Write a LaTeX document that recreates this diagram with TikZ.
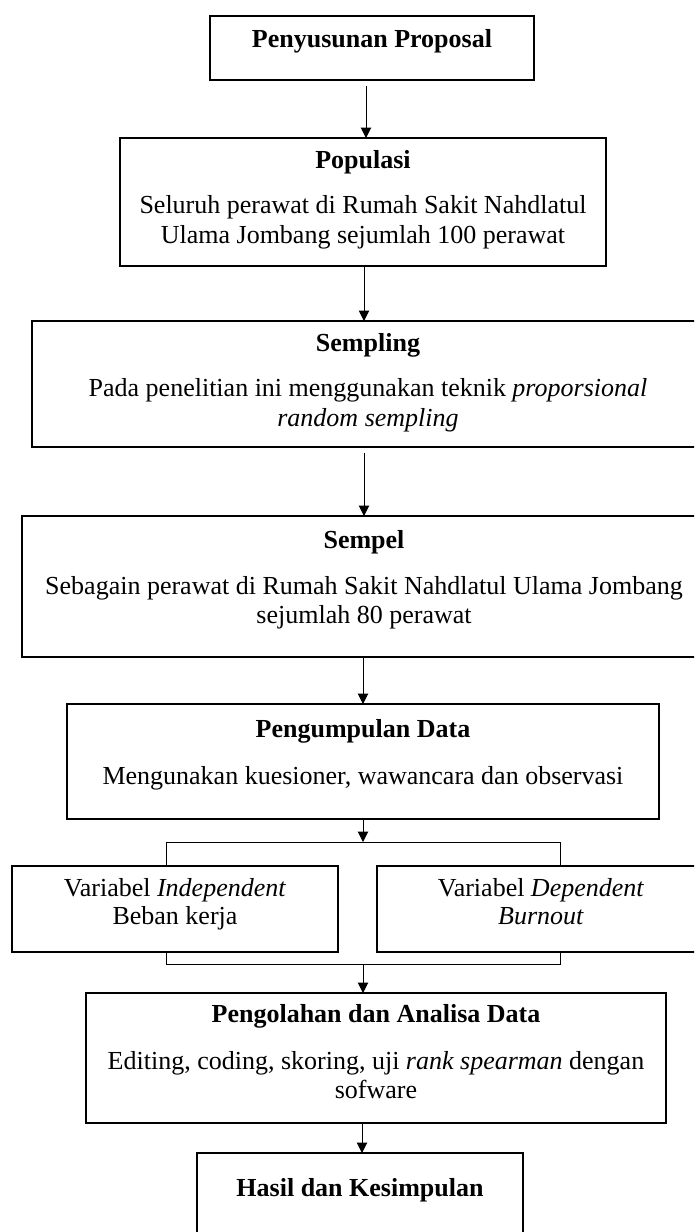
\documentclass[tikz,border=0pt]{standalone}
\usepackage{fontspec}
\setmainfont{Liberation Serif}
\usetikzlibrary{arrows.meta}
\tikzset{
 box/.style={draw=black, line width=1.6pt, inner sep=0pt, outer sep=0pt},
 txt/.style={anchor=base, inner sep=0pt, outer sep=0pt, font=\fontsize{26}{30}\selectfont},
 conn/.style={draw=black, line width=1pt},
 arr/.style={conn, -{Triangle[length=10.5pt,width=10.5pt]}},
}
\begin{document}
\begin{tikzpicture}[x=1pt,y=-1pt]
\clip (0,0) rectangle (694,1232);
\fill[white] (0,0) rectangle (694,1232);
% boxes
\node[box, minimum width=324pt, minimum height=64pt] (b1) at (372,48) {};
\node[box, minimum width=486pt, minimum height=128pt] (b2) at (363,202) {};
\node[box, minimum width=672pt, minimum height=126pt] (b3) at (368,384) {};
\node[box, minimum width=684pt, minimum height=141pt] (b4) at (364,586.5) {};
\node[box, minimum width=592pt, minimum height=115pt] (b5) at (363,761.5) {};
\node[box, minimum width=326pt, minimum height=86pt] (b6a) at (175,909) {};
\node[box, minimum width=328pt, minimum height=86pt] (b6b) at (541,909) {};
\node[box, minimum width=580pt, minimum height=130pt] (b7) at (376,1058) {};
\node[box, minimum width=326pt, minimum height=100pt] (b8) at (360,1203) {};
% texts
\node[txt] (t1) at (372,47) {\textbf{Penyusunan Proposal}};
\node[txt] (t2a) at (363,168) {\textbf{Populasi}};
\node[txt] (t2b) at (363,213) {Seluruh perawat di Rumah Sakit Nahdlatul};
\node[txt] (t2c) at (363,243) {Ulama Jombang sejumlah 100 perawat};
\node[txt] (t3a) at (368,351) {\textbf{Sempling}};
\node[txt] (t3b) at (368,396) {Pada penelitian ini menggunakan teknik \textit{proporsional}};
\node[txt] (t3c) at (368,426) {\textit{random sempling}};
\node[txt] (t4a) at (364,548) {\textbf{Sempel}};
\node[txt] (t4b) at (364,594) {Sebagain perawat di Rumah Sakit Nahdlatul Ulama Jombang};
\node[txt] (t4c) at (364,623) {sejumlah 80 perawat};
\node[txt] (t5a) at (363,737) {\textbf{Pengumpulan Data}};
\node[txt] (t5b) at (363,784) {Mengunakan kuesioner, wawancara dan observasi};
\node[txt] (t6a) at (175,896) {Variabel \textit{Independent}};
\node[txt] (t6b) at (175,924) {Beban kerja};
\node[txt] (t6c) at (541,896) {Variabel \textit{Dependent}};
\node[txt] (t6d) at (541,924) {\textit{Burnout}};
\node[txt] (t7a) at (376,1022) {\textbf{Pengolahan dan Analisa Data}};
\node[txt] (t7b) at (376,1069) {Editing, coding, skoring, uji \textit{rank spearman} dengan};
\node[txt] (t7c) at (376,1098) {sofware};
\node[txt] (t8) at (360,1196) {\textbf{Hasil dan Kesimpulan}};
% junction coordinates
\coordinate (jt) at (363,842);
\coordinate (ja) at (166,842);
\coordinate (jc) at (560,842);
\coordinate (jb) at (363,964);
\coordinate (ka) at (166,964);
\coordinate (kc) at (560,964);
% connectors
\draw[arr, shorten <=6pt] (b1.south -| 366,0) -- (b2.north -| 366,0);
\draw[arr] (b2.south -| 364,0) -- (b3.north -| 364,0);
\draw[arr, shorten <=6pt] (b3.south -| 364,0) -- (b4.north -| 364,0);
\draw[arr] (b4.south -| 363,0) -- (b5.north -| 363,0);
\draw[arr] (b5.south -| jt) -- (jt);
\draw[conn] (b6a.north -| ja) -- (ja) -- (jc) -- (b6b.north -| jc);
\draw[conn] (b6a.south -| ka) -- (ka) -- (kc) -- (b6b.south -| kc);
\draw[arr] (jb) -- (b7.north -| jb);
\draw[arr] (b7.south -| 362,0) -- (b8.north -| 362,0);
\end{tikzpicture}
\end{document}
